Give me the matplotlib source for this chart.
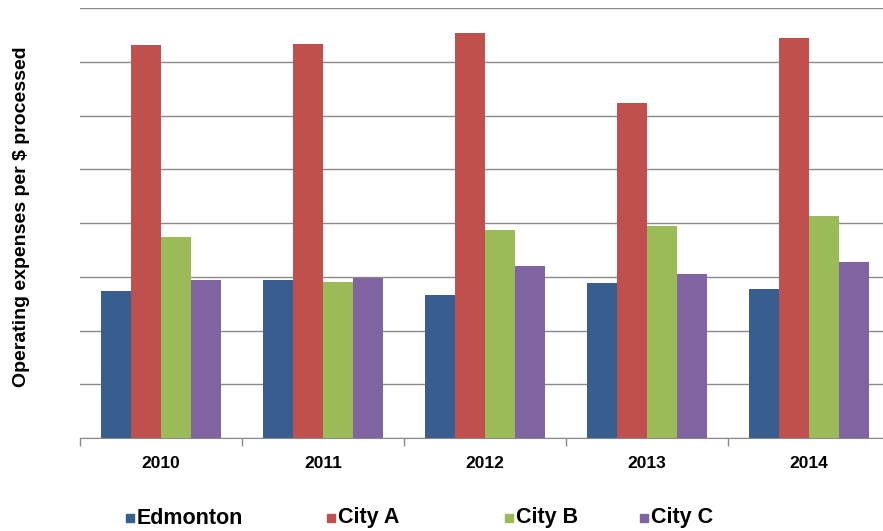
import matplotlib.pyplot as plt
import numpy as np
from matplotlib.patches import Rectangle

plt.rcParams["font.family"] = ["Liberation Sans", "DejaVu Sans"]

# Operating expenses per $ processed, in gridline units (axis labels hidden)
years = ["2010", "2011", "2012", "2013", "2014"]
cities = ["Edmonton", "City A", "City B", "City C"]
edmonton = [2.73, 2.94, 2.66, 2.88, 2.77]
city_a = [7.31, 7.33, 7.53, 6.23, 7.44]
city_b = [3.74, 2.90, 3.87, 3.94, 4.13]
city_c = [2.94, 2.98, 3.20, 3.05, 3.27]
y_ticks = [0, 1, 2, 3, 4, 5, 6, 7, 8]

colors = ["#385E8F", "#C0504D", "#9BBB59", "#8064A2"]

W, H = 883, 531
fig = plt.figure(figsize=(W / 100, H / 100), dpi=100)
# axes run slightly past the right edge of the canvas
ax = fig.add_axes([80 / W, 1 - 438 / H, 810 / W, 430 / H])

x = np.arange(len(years))
w = 0.184
series = [edmonton, city_a, city_b, city_c]
for i, (vals, col, name) in enumerate(zip(series, colors, cities)):
    ax.bar(x + (i - 1.5) * w, vals, width=w, color=col, label=name,
           zorder=3, linewidth=0)

ax.set_xlim(-0.5, len(years) - 0.5)
ax.set_ylim(0, 8)
ax.set_yticks(y_ticks)
ax.set_yticklabels([])
ax.tick_params(axis="y", length=0)
ax.grid(axis="y", color="#8a8a8a", linewidth=1.0, zorder=0)

ax.set_xticks(x)
ax.set_xticklabels(years, fontsize=12.5, fontweight="bold")
ax.tick_params(axis="x", which="major", length=0, pad=13)
ax.set_xticks(np.arange(len(years) + 1) - 0.5, minor=True)
ax.tick_params(axis="x", which="minor", length=6, color="#8a8a8a", width=1)

for side in ["top", "right", "left"]:
    ax.spines[side].set_visible(False)
ax.spines["bottom"].set_color("#8a8a8a")
ax.spines["bottom"].set_zorder(4)

fig.text(22 / W, 1 - 217 / H, "Operating expenses per $ processed",
         rotation=90, ha="center", va="center", fontsize=14,
         fontweight="bold")

# legend row along the bottom: small square key then bold label
legend_x = [126, 327, 505, 640]
legend_y = 1 - 518 / H
for lx, col, name in zip(legend_x, colors, cities):
    fig.patches.append(Rectangle((lx / W, legend_y - 4 / H), 8 / W, 8 / H,
                                 transform=fig.transFigure, color=col))
    fig.text((lx + 11) / W, legend_y, name, ha="left", va="center",
             fontsize=15.5, fontweight="bold")

fig.savefig("out.png", dpi=100)
